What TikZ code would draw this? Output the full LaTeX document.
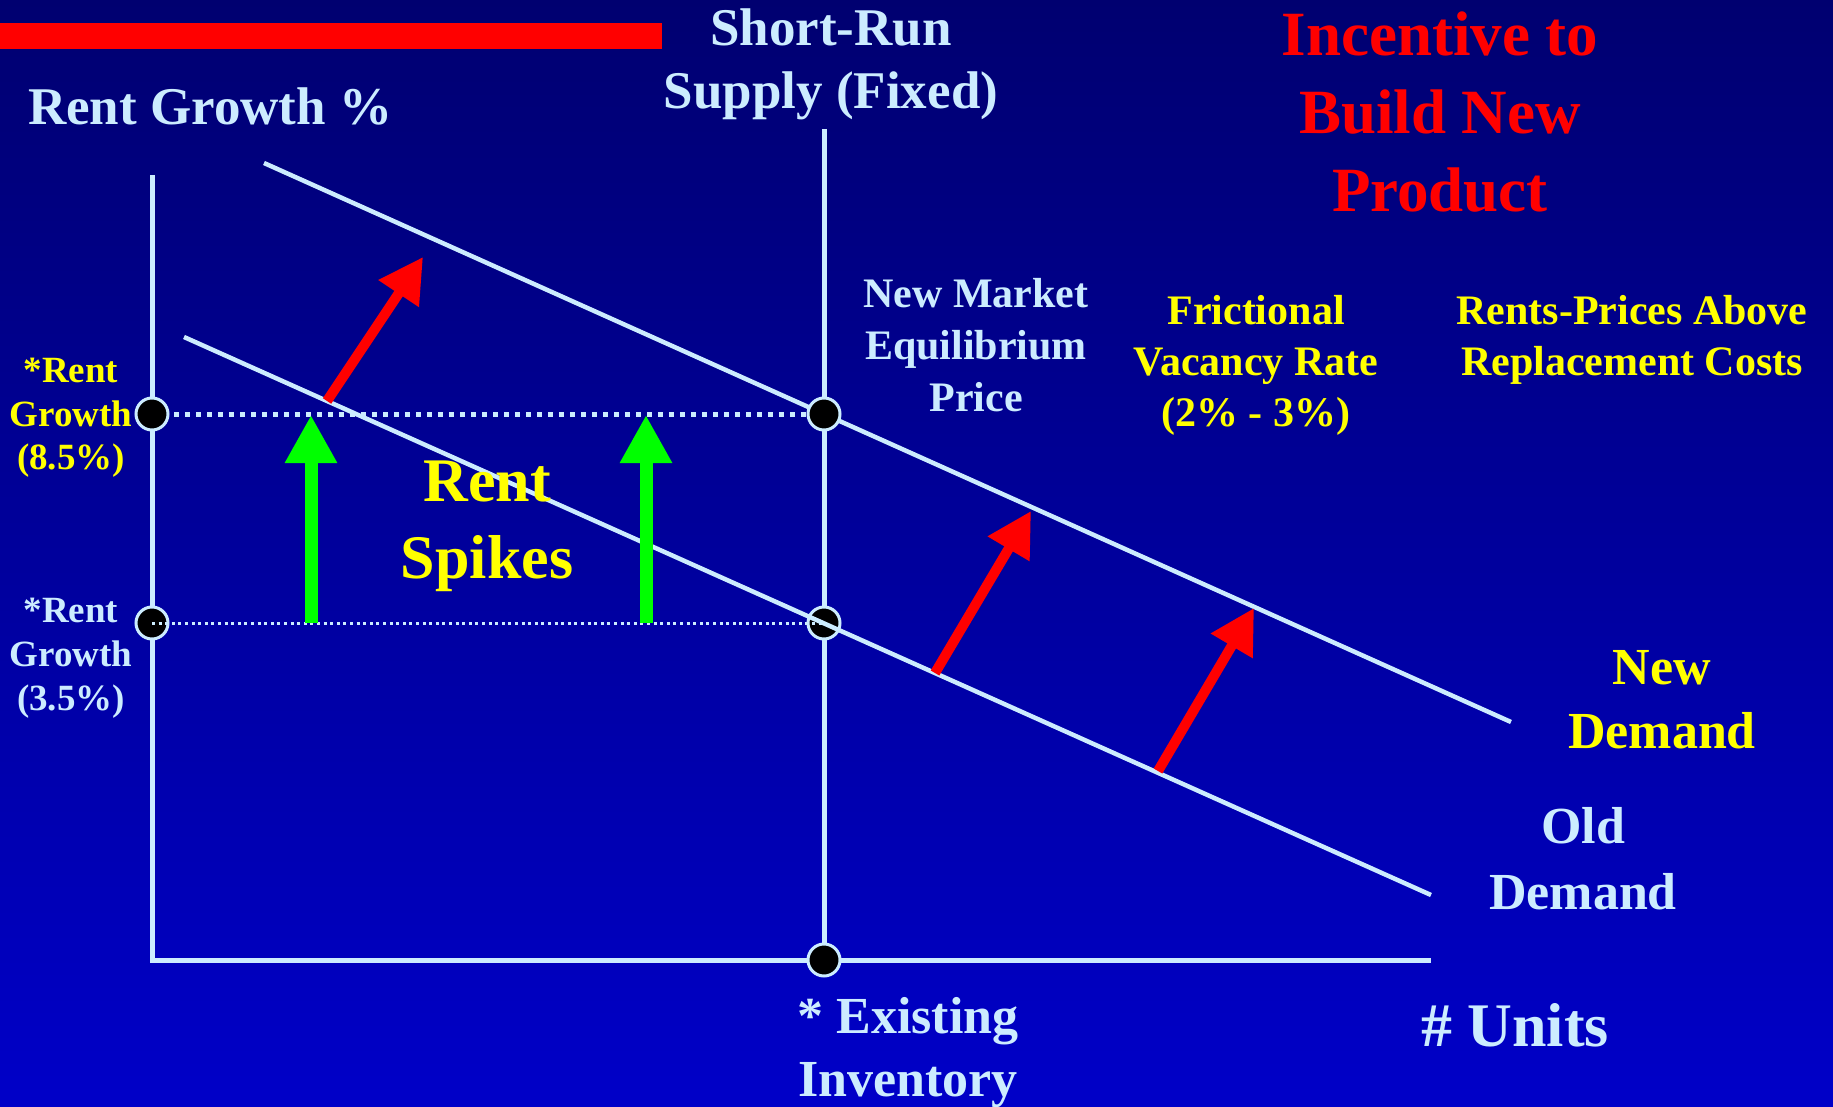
\documentclass[tikz,border=0pt]{standalone}
\usepackage{fontspec}
\setmainfont{Liberation Serif}
\usetikzlibrary{arrows.meta}
\definecolor{lb}{HTML}{CCECFF}
\definecolor{bgtop}{HTML}{000070}
\definecolor{bgbot}{HTML}{0000C8}
\definecolor{ylw}{HTML}{FFFF00}
\definecolor{grn}{HTML}{00FF00}
\definecolor{rd}{HTML}{FF0000}
\begin{document}
\begin{tikzpicture}[x=1pt,y=-1pt,
  fs/.style 2 args={inner sep=0pt,align=center,font=\fontsize{#1}{#2}\selectfont\bfseries},
  axisline/.style={draw=lb,line width=5pt},
  demand/.style={draw=lb,line width=4.5pt},
  bigdots/.style={draw=lb,line width=5pt,dash pattern=on 5pt off 6pt},
  smalldots/.style={draw=lb,line width=3pt,dash pattern=on 3pt off 3.6pt},
  pt/.style={circle,fill=black,draw=lb,line width=3pt,minimum size=32pt,inner sep=0pt},
  greenarrow/.style={draw=grn,line width=13pt,-{Triangle[width=49pt,length=48pt]}},
  redarrow/.style={draw=rd,line width=10pt,-{Triangle[width=46pt,length=44pt]}}]
\shade[top color=bgtop,bottom color=bgbot] (0,0) rectangle (1833,1107);
\useasboundingbox (0,0) rectangle (1833,1107);
\fill[rd] (0,23) rectangle (662,49);
% coordinates
\coordinate (ytop) at (152,175);
\coordinate (origin) at (152,960);
\coordinate (xend) at (1431,960);
\coordinate (stop) at (824,129);
\coordinate (nd1) at (264,163);
\coordinate (nd2) at (1511,722);
\coordinate (od1) at (184,337);
\coordinate (od2) at (1431,895);
% axes and supply
\draw[axisline] (ytop) -- (origin) -- (xend);
\draw[axisline] (stop) -- (824,960);
% new demand
\draw[demand] (nd1) -- (nd2);
% upper dotted
\coordinate (uL) at (152,414);
\coordinate (uR) at (824,414);
\draw[bigdots] (uL) -- (uR);
% dots
\node[pt] (dA) at (uL) {};
\node[pt] (dB) at (uR) {};
\node[pt] (dC) at (152,623) {};
\node[pt] (dD) at (824,623) {};
\node[pt] (dE) at (824,960) {};
% lower dotted
\draw[smalldots] (dC.center) -- (dD.center);
% old demand
\draw[demand] (od1) -- (od2);
% green arrows
\coordinate (g1s) at (311,623);
\coordinate (g1e) at (311,415);
\coordinate (g2s) at (646,623);
\coordinate (g2e) at (646,415);
\draw[greenarrow] (g1s) -- (g1e);
\draw[greenarrow] (g2s) -- (g2e);
% red arrows
\coordinate (r1s) at (327,401);
\coordinate (r1e) at (423,257);
\coordinate (r2s) at (935,673);
\coordinate (r2e) at (1031,511);
\coordinate (r3s) at (1158,771);
\coordinate (r3e) at (1254,608);
\draw[redarrow] (r1s) -- (r1e);
\draw[redarrow] (r2s) -- (r2e);
\draw[redarrow] (r3s) -- (r3e);
% texts
\node[fs={53}{63},text=lb,anchor=west] (rg) at (28,106) {Rent Growth \%};
\node[fs={53}{63},text=lb] (srs) at (831,64) {Short-Run\\Supply (Fixed)};
\node[fs={63}{78},text=rd] (inc) at (1440,112) {Incentive to\\Build New\\Product};
\node[fs={42}{52},text=lb] (nme) at (976,345) {New Market\\Equilibrium\\Price};
\node[fs={42}{51},text=ylw] (fvr) at (1256,365) {Frictional\\Vacancy Rate\\(2\% - 3\%)};
\node[fs={42}{51},text=ylw] (rpa) at (1632,340) {Rents-Prices Above\\Replacement Costs};
\node[fs={37}{43.5},text=ylw] (rg85) at (71,418) {*Rent\\Growth\\(8.5\%)};
\node[fs={37}{44},text=lb] (rg35) at (71,658) {*Rent\\Growth\\(3.5\%)};
\node[fs={62}{77},text=ylw] (spk) at (487,526) {Rent\\Spikes};
\node[fs={52}{64},text=ylw] (ndl) at (1662,700) {New\\Demand};
\node[fs={52}{66},text=lb] (odl) at (1583,859) {Old\\Demand};
\node[fs={52}{63},text=lb] (inv) at (908,1053) {* Existing\\Inventory};
\node[fs={62}{74},text=lb] (units) at (1515,1025) {\# Units};
\end{tikzpicture}
\end{document}
